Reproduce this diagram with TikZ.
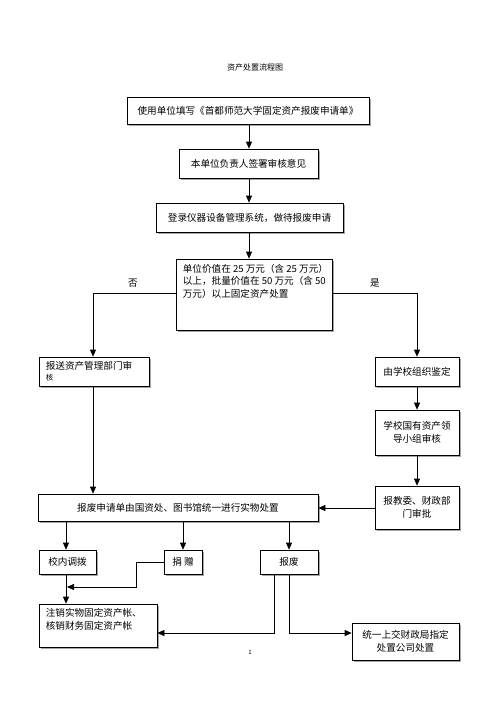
\documentclass[tikz,border=0pt]{standalone}
\usepackage{fontspec}
\setmainfont{Noto Sans CJK SC}
\usetikzlibrary{arrows.meta,shadows,calc}
\begin{document}
\begin{tikzpicture}[x=1pt,y=-1pt,
  box/.style={draw, line width=0.7pt, fill=white, inner sep=0pt,
    drop shadow={shadow xshift=2pt, shadow yshift=-2pt, fill=black!35, opacity=1}},
  arr/.style={-{Triangle[length=7pt,width=6pt]}, line width=0.7pt},
  ln/.style={line width=0.7pt},
  txt/.style={font=\fontsize{9.6}{12.5}\selectfont, inner sep=0pt, align=center},
  ltxt/.style={font=\fontsize{9.6}{12.5}\selectfont, inner sep=0pt, align=left, anchor=north west}]
\fill[white] (0,0) rectangle (500,707);
\path[use as bounding box] (0,0) rectangle (500,707);

% title
\node[font=\fontsize{8}{10}\selectfont, inner sep=0pt] (title) at (255,67) {资产处置流程图};

% top chain
\node[box, minimum width=242pt, minimum height=27pt, txt] (b1) at (248,110.5) {使用单位填写《首都师范大学固定资产报废申请单》};
\node[box, minimum width=139pt, minimum height=29pt, txt] (b2) at (248.5,163.5) {本单位负责人签署审核意见};
\node[box, minimum width=187pt, minimum height=29pt, txt] (b3) at (249.5,217.5) {登录仪器设备管理系统，做待报废申请};
\node[box, minimum width=156pt, minimum height=71pt] (b4) at (254,294.5) {};
\node[ltxt] (b4t) at ($(b4.north west)+(7,5)$) {单位价值在 25 万元（含 25 万元）\\以上，批量价值在 50 万元（含 50\\万元）以上固定资产处置};

% left branch
\node[box, minimum width=110pt, minimum height=29pt] (l1) at (94,371.5) {};
\node[ltxt] (l1t) at ($(l1.north west)+(7,5)$) {报送资产管理部门审\\[-2pt]{\fontsize{7.5}{9}\selectfont 核}};

% right branch
\node[box, minimum width=84pt, minimum height=29pt, txt] (r1) at (417,371.5) {由学校组织鉴定};
\node[box, minimum width=84pt, minimum height=45pt, txt] (r2) at (417,432.5) {学校国有资产领\\导小组审核};
\node[box, minimum width=84pt, minimum height=43pt, txt] (r3) at (417,507.5) {报教委、财政部\\门审批};

% big box
\node[box, minimum width=280pt, minimum height=27pt, txt] (big) at (178,507.5) {报废申请单由国资处、图书馆统一进行实物处置};

% small boxes
\node[box, minimum width=57pt, minimum height=24pt, txt] (s1) at (67.5,562) {校内调拨};
\node[box, minimum width=38pt, minimum height=24pt, txt] (s2) at (183,562) {捐\ 赠};
\node[box, minimum width=58pt, minimum height=24pt, txt] (s3) at (289,562) {报废};

% final boxes
\node[box, minimum width=118pt, minimum height=43pt] (c1) at (98,625.5) {};
\node[ltxt] (c1t) at ($(c1.north west)+(7,5)$) {注销实物固定资产帐、\\核销财务固定资产帐};
\node[box, minimum width=107pt, minimum height=37pt, txt] (c2) at (405.5,641.5) {统一上交财政局指定\\处置公司处置};

% labels
\node[txt] (no) at (133,283) {否};
\node[txt] (yes) at (375,283) {是};
\node[font=\fontsize{6}{7}\selectfont, inner sep=0pt] (pg) at (250,652) {1};

% connectors top chain
\draw[arr] (b1.south -| 249,0) -- (b2.north -| 249,0);
\draw[arr] (b2.south -| 249,0) -- (b3.north -| 249,0);
\draw[arr] (b3.south -| 249,0) -- (b4.north -| 249,0);

% branches
\coordinate (bl) at (b4.west |- 0,293);
\coordinate (br) at (b4.east |- 0,293);
\draw[arr] (bl) -| (l1.north -| 93,0);
\draw[arr] (br) -| (r1.north);
\draw[arr] (r1.south) -- (r2.north);
\draw[arr] (r2.south) -- (r3.north);
\draw[arr] (l1.south -| 93,0) -- (big.north -| 93,0);
\draw[arr] (r3.west |- 0,508) -- (big.east |- 0,508);

% from big box to small boxes
\draw[arr] (big.south -| 66,0) -- (s1.north -| 66,0);
\draw[arr] (big.south -| s2.north) -- (s2.north);
\draw[arr] (big.south -| s3.north) -- (s3.north);

% to final boxes
\draw[arr] (s1.south -| 66,0) -- (c1.north -| 66,0);
\coordinate (dj) at (67,587);
\coordinate (dk) at (136,587);
\draw[arr] (s2.west) -| (dk) -- (dj);
\coordinate (fa) at (274,633);
\coordinate (fb) at (289,633);
\draw[arr] (s3.south -| fa) -- (fa) -- (c1.east |- fa);
\draw[arr] (s3.south) -- (fb) -- (c2.west |- fb);
\end{tikzpicture}
\end{document}
